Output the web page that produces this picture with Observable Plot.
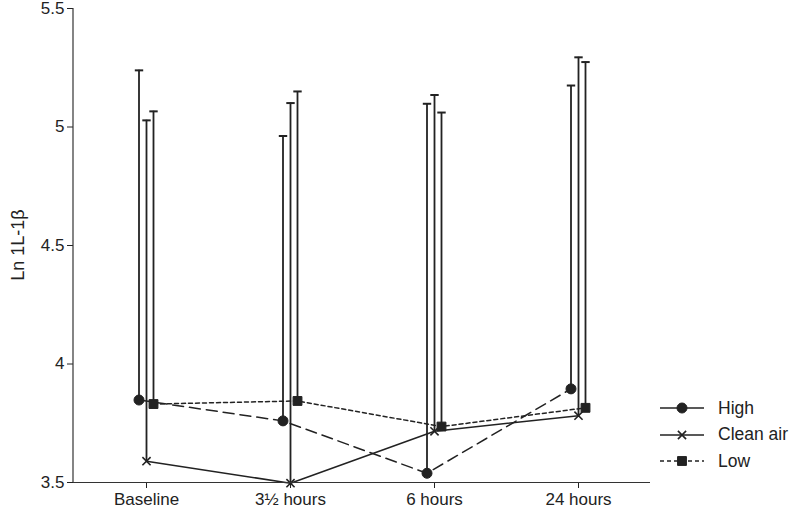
<!DOCTYPE html>
<html>
<head>
<meta charset="utf-8">
<script src="https://cdn.jsdelivr.net/npm/d3@7"></script>
<script src="https://cdn.jsdelivr.net/npm/@observablehq/plot@0.6"></script>
<style>
  html, body { margin: 0; padding: 0; background: #fff; }
  #wrap { position: relative; width: 794px; height: 512px; font-family: "Liberation Sans", Arial, sans-serif; color: #222; }
  #legend { position: absolute; left: 658px; top: 395px; font-size: 17.5px; }
  .row { display: flex; align-items: center; height: 26.5px; }
  .row svg { margin-right: 12px; }
</style>
</head>
<body>
<div id="wrap"></div>
<script>
const times = ["Baseline", "3½ hours", "6 hours", "24 hours"];
const seriesNames = ["High", "Clean air", "Low"];
const highMean  = [3.848, 3.760, 3.539, 3.895];
const highUpper = [5.239, 4.962, 5.098, 5.175];
const cleanMean  = [3.590, 3.497, 3.716, 3.782];
const cleanUpper = [5.028, 5.101, 5.135, 5.294];
const lowMean  = [3.831, 3.844, 3.736, 3.815];
const lowUpper = [5.066, 5.150, 5.061, 5.274];
const yTicks = [3.5, 4, 4.5, 5, 5.5];
const yLabel = "Ln 1L-1β";

const ink = "#222";
const styles = {
  "High":      {dx: -7.5, dash: "11,6", symbol: "circle", r: 5},
  "Clean air": {dx: 0,    dash: null,   symbol: "times",  r: 3.8},
  "Low":       {dx: 7,    dash: "4,3",  symbol: "square", r: 5}
};
const means = {"High": highMean, "Clean air": cleanMean, "Low": lowMean};
const uppers = {"High": highUpper, "Clean air": cleanUpper, "Low": lowUpper};

const rows = {};
for (const s of seriesNames) {
  rows[s] = times.map((t, i) => ({time: t, series: s, mean: means[s][i], upper: uppers[s][i]}));
}

const cap = {draw(ctx, size) { const h = Math.sqrt(size / Math.PI); ctx.moveTo(-h, 0); ctx.lineTo(h, 0); }};

const marks = [];
for (const s of seriesNames) {
  const st = styles[s];
  marks.push(Plot.ruleX(rows[s], {x: "time", y1: "mean", y2: "upper", dx: st.dx, stroke: ink, strokeWidth: 1.8}));
  marks.push(Plot.dot(rows[s], {x: "time", y: "upper", dx: st.dx, symbol: cap, r: 4.2, stroke: ink, strokeWidth: 2, fill: "none"}));
}
for (const s of seriesNames) {
  const st = styles[s];
  marks.push(Plot.line(rows[s], {x: "time", y: "mean", dx: st.dx, stroke: ink, strokeWidth: 1.5, strokeDasharray: st.dash}));
}
for (const s of seriesNames) {
  const st = styles[s];
  const filled = st.symbol !== "times";
  marks.push(Plot.dot(rows[s], {x: "time", y: "mean", dx: st.dx, symbol: st.symbol, r: st.r,
    fill: filled ? ink : "none", stroke: ink, strokeWidth: filled ? 1 : 1.6}));
}
marks.push(Plot.ruleY([3.5], {stroke: "#333", strokeWidth: 1.2}));

const chart = Plot.plot({
  width: 794,
  height: 512,
  marginLeft: 73,
  marginRight: 144,
  marginTop: 8,
  marginBottom: 30,
  style: {fontFamily: "\"Liberation Sans\", Arial, sans-serif", fontSize: "17px", color: ink, background: "#fff", overflow: "visible"},
  x: {type: "point", domain: times, padding: 0.5, label: null, tickSize: 6, tickPadding: 4},
  y: {domain: [3.5, 5.5], ticks: yTicks, label: null, tickSize: 6, tickPadding: 3, tickFormat: d => String(d)},
  marks
});

document.getElementById("wrap").appendChild(chart);

// left spine
const ys = chart.scale("y");
d3.select(chart).append("line")
  .attr("x1", 73).attr("x2", 73)
  .attr("y1", ys.range[0]).attr("y2", ys.range[1])
  .attr("stroke", "#333").attr("stroke-width", 1.2);

// y axis title
const yMid = (ys.range[0] + ys.range[1]) / 2;
d3.select(chart).append("text")
  .attr("transform", `translate(18,${yMid}) rotate(-90)`)
  .attr("text-anchor", "middle").attr("dy", "0.35em")
  .attr("fill", ink).style("font-size", "18px")
  .text(yLabel);

// legend
const legend = d3.select("#wrap").append("div").attr("id", "legend");
for (const s of seriesNames) {
  const st = styles[s];
  const row = legend.append("div").attr("class", "row");
  const svg = row.append("svg").attr("width", 48).attr("height", 16);
  svg.append("line").attr("x1", 2).attr("x2", 46).attr("y1", 8).attr("y2", 8)
    .attr("stroke", ink).attr("stroke-width", 1.5).attr("stroke-dasharray", s === "Low" ? "4,3" : null);
  const sym = d3.symbol().type(st.symbol === "circle" ? d3.symbolCircle : st.symbol === "square" ? d3.symbolSquare : d3.symbolTimes)
    .size(st.r * st.r * Math.PI);
  svg.append("path").attr("d", sym()).attr("transform", "translate(24,8)")
    .attr("fill", st.symbol === "times" ? "none" : ink).attr("stroke", ink).attr("stroke-width", st.symbol === "times" ? 1.6 : 1);
  row.append("span").text(s);
}
</script>
</body>
</html>
